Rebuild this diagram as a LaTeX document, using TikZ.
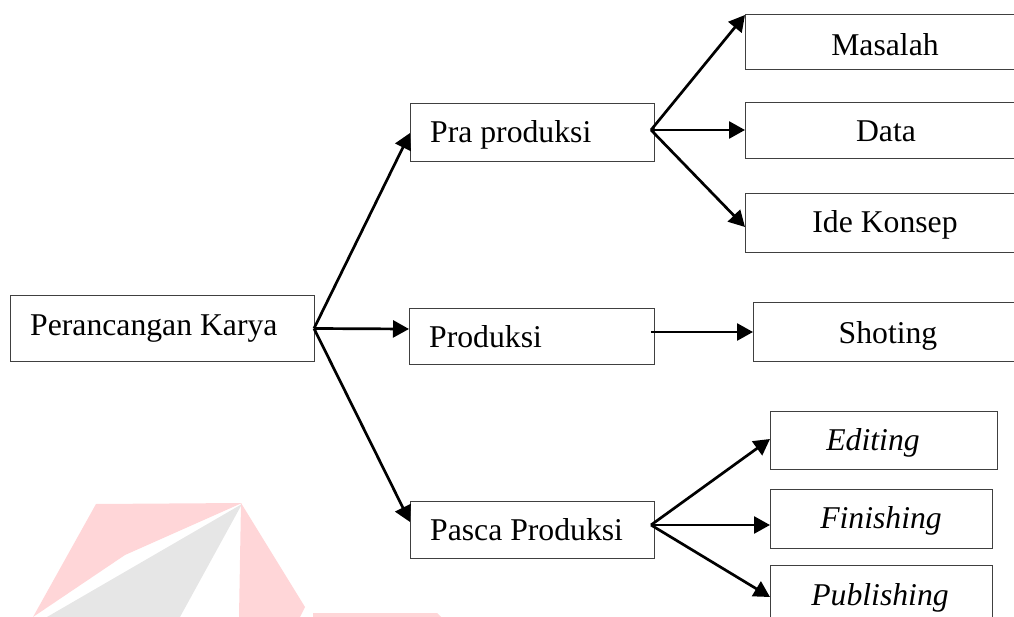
\documentclass[tikz,border=0pt]{standalone}
\usepackage{fontspec}
\setmainfont{Liberation Serif}
\usetikzlibrary{arrows.meta,calc}
\definecolor{wmpink}{HTML}{FFD6D8}
\definecolor{wmgray}{HTML}{E6E6E6}
\definecolor{boxline}{HTML}{404040}
\tikzset{
  box/.style={draw=boxline, line width=1pt, inner sep=0pt, outer sep=0pt, anchor=north west},
  lbl/.style={inner sep=0pt, font=\fontsize{31.7}{36}\selectfont},
  conn/.style={line width=2.7pt, -{Triangle[length=16pt,width=17pt]}},
}
\begin{document}
\begin{tikzpicture}[x=1pt,y=-1pt]
\useasboundingbox (0,0) rectangle (1014,617);
\clip (0,0) rectangle (1014,617);
% watermark
\fill[wmpink] (96,504) -- (242,503) -- (125,555) -- (33,617) -- cycle;
\fill[wmgray] (242,504) -- (47,617) -- (180,617) -- cycle;
\fill[wmpink] (241,503) -- (305,607) -- (300,617) -- (239,617) -- cycle;
\fill[wmpink] (313,613) -- (437,613) -- (441,617) -- (313,617) -- cycle;
% boxes
\node[box, minimum width=304, minimum height=65] (perc) at (10,296) {};
\node[box, minimum width=244, minimum height=58] (pra) at (410,104) {};
\node[box, minimum width=245, minimum height=55] (prod) at (409,309) {};
\node[box, minimum width=244, minimum height=57] (pasca) at (410,501) {};
\node[box, minimum width=300, minimum height=55] (mas) at (745,15) {};
\node[box, minimum width=300, minimum height=56] (data) at (745,103) {};
\node[box, minimum width=300, minimum height=59] (ide) at (745,194) {};
\node[box, minimum width=300, minimum height=58] (shot) at (753,303) {};
\node[box, minimum width=227, minimum height=58] (edit) at (770,411) {};
\node[box, minimum width=222, minimum height=59] (fin) at (770,489) {};
\node[box, minimum width=222, minimum height=80] (pub) at (770,565) {};
% labels
\node[lbl, anchor=base west] (percT) at (30,335) {Perancangan Karya};
\node[lbl, anchor=base west] (praT) at (430,143) {Pra produksi};
\node[lbl, anchor=base west] (prodT) at (429,348) {Produksi};
\node[lbl, anchor=base west] (pascaT) at (430,540) {Pasca Produksi};
\node[lbl, anchor=base] (masT) at (885,56) {Masalah};
\node[lbl, anchor=base] (dataT) at (886,142) {Data};
\node[lbl, anchor=base] (ideT) at (885,233) {Ide Konsep};
\node[lbl, anchor=base] (shotT) at (888,343) {Shoting};
\node[lbl, anchor=base] (editT) at (873,450) {\itshape Editing};
\node[lbl, anchor=base] (finT) at (881,528) {\itshape Finishing};
\node[lbl, anchor=base] (pubT) at (880,605) {\itshape Publishing};
% connectors
\draw[conn] (perc.east) -- (pra.west);
\draw[conn] (perc.east) -- ($(prod.north west)+(0,20)$);
\draw[conn] (perc.east) -- ($(pasca.north west)+(0,21)$);
\draw[conn] ($(pra.north east)+(-3,26)$) -- (mas.north west);
\draw[conn] ($(pra.north east)+(-3,26)$) -- ($(data.north west)+(0,27)$);
\draw[conn] ($(pra.north east)+(-3,26)$) -- ($(ide.north west)+(0,33)$);
\draw[conn] ($(prod.north east)+(-3,23)$) -- ($(shot.north west)+(0,29)$);
\draw[conn] ($(pasca.north east)+(-3,24)$) -- ($(edit.north west)+(0,28)$);
\draw[conn] ($(pasca.north east)+(-3,24)$) -- ($(fin.north west)+(0,36)$);
\draw[conn] ($(pasca.north east)+(-3,24)$) -- ($(pub.north west)+(0,32)$);
\end{tikzpicture}
\end{document}
